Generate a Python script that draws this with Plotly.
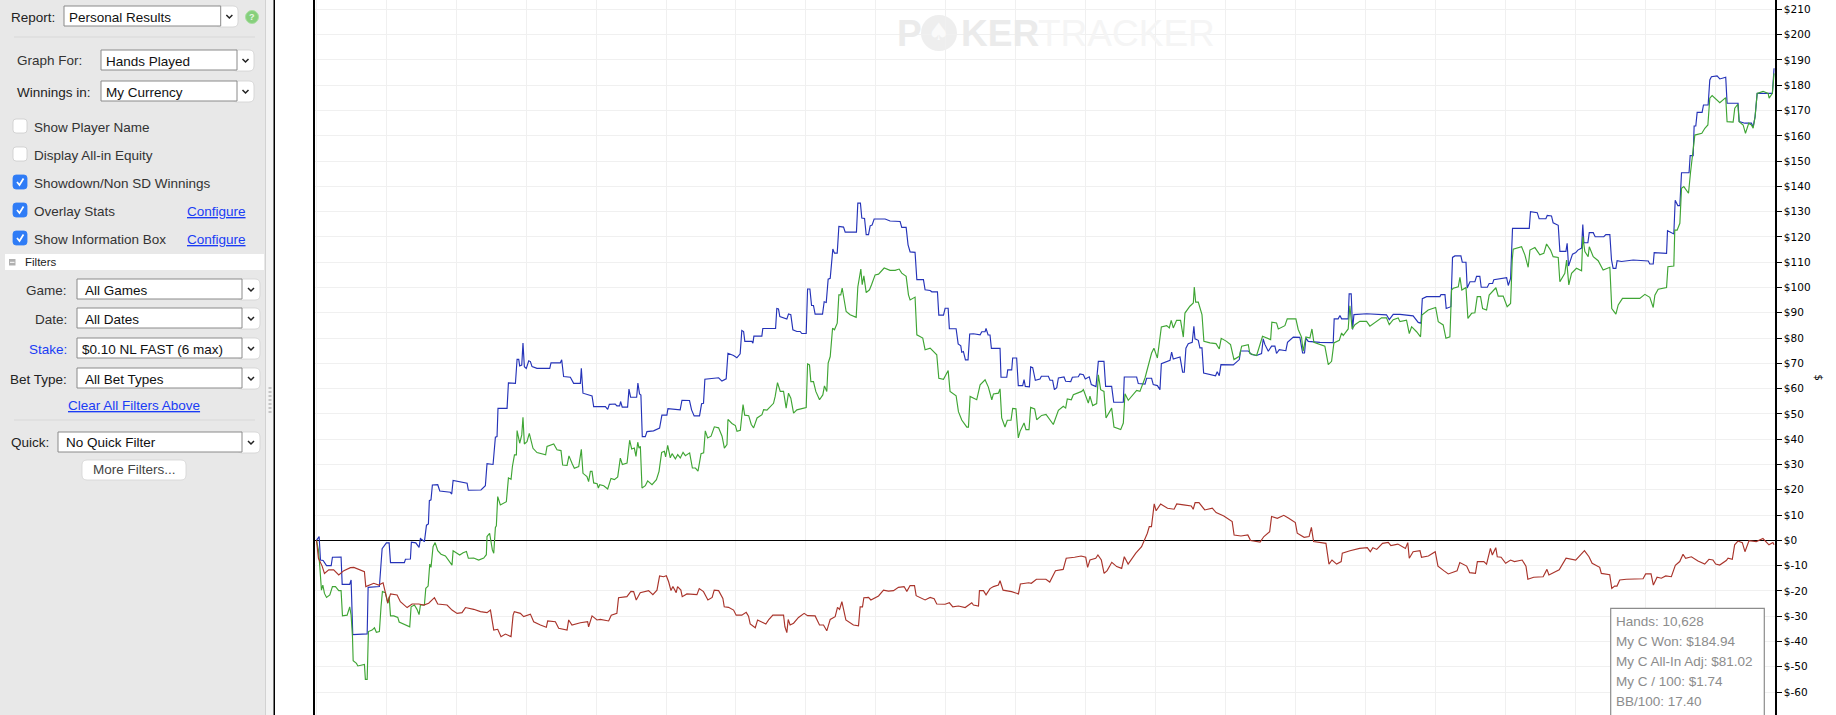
import plotly.graph_objects as go

blue_points = [(11,0),(30,1.5),(40,-7.8),(59,-8),(84,-10),(118,-10),(127,-6.7),(190,-6.6),(198,-17.4),(253,-17.4),(263,-15.7),(275,-37.3),(380,-37),(387,-18.6),(469,-18.3),(489,-3.3),(520,-1),(540,-1),(550,-8.8),(651,-8.8),(659,-7.5),(695,-7.4),(702,-0.7),(734,-1),(758,-2.8),(768,0.7),(797,-0.5),(812,6),(826,6.5),(833,15.7),(845,16),(855,21.9),(894,22),(909,19.5),(986,19),(996,18.3),(1006,23.7),(1108,22.6),(1117,19.8),(1209,19.9),(1241,21.6),(1253,30.3),(1297,30),(1314,40.8),(1326,41),(1333,52.2),(1399,52.2),(1409,62.3),(1460,62.1),(1472,71.6),(1484,71.6),(1491,69),(1506,69.3),(1515,78),(1525,68.7),(1539,68),(1557,71),(1569,70.7),(1581,68.7),(1617,68),(1710,68),(1719,70.2),(1787,70.2),(1797,71.4),(1811,64.8),(1860,64.5),(1884,62.1),(1933,62.1),(1940,68),(1952,58.2),(2018,57.1),(2030,52.9),(2115,52.9),(2132,51.8),(2144,53.8),
(2187,53.9),(2199,53.2),(2219,53.2),(2226,54.9),(2238,52.7),(2277,52.7),(2287,59.8),(2299,56.6),(2343,56.6),(2352,62.2),(2364,57.9),(2374,57.5),(2384,41),(2406,41),(2418,43),(2466,43.3),(2510,44.4),(2527,49.5),(2563,49.5),(2571,52.1),(2660,51.6),(2673,55.4),(2728,55.3),(2743,51.6),(2762,49.2),(2801,49.2),(2816,54),(2830,54.2),(2840,63.7),(2940,64.3),(2964,63),(2995,63.9),(3008,74),(3049,73.1),(3073,72.2),(3097,73.8),(3109,83),(3122,82.6),(3131,78.7),(3182,78.7),(3190,78),(3197,80.8),(3255,80.8),(3262,83.8),(3355,83.8),(3364,91.7),(3376,91.5),(3386,88.5),(3437,87.5),(3449,89.5),(3466,89.2),(3481,83.3),(3510,82.6),(3534,82.6),(3546,81.8),(3578,81.8),(3588,99.4),(3605,99.4),(3617,92.9),(3631,92.9),(3643,89.5),(3697,89.5),(3709,94.4),(3724,94.1),(3738,103.3),(3753,103.6),(3772,115.2),(3784,113.6),(3804,113.6),(3816,124.2),(3850,123.9),(3862,121.9),(3944,121.9),(3954,133.4),(3973,133.4),(3983,127.5),(4003,127.3),(4015,120.9),(4032,120.9),(4044,124.4),(4058,124.7),(4073,127.1),(4129,127.1),(4153,127.1),(4189,126.3),(4262,126.1),(4274,123.8),(4306,123.8),(4320,116.9),(4335,114.1),(4371,113.9),(4384,103.1),(4432,103.1),(4444,99.1),(4481,98.8),(4493,98.3),(4534,98.3),(4544,89.1),(4578,89.1),(4590,91.8),(4612,91.8),(4621,83.7),(4670,83.7),(4685,77.7),(4704,76.9),(4711,74.4),(4723,74.7),(4738,71.4),(4757,71.4),(4769,81.6),(4796,81.7),(4845,81.3),(4857,82.5),(4881,82.5),(4888,83.8),(4903,81.2),(4917,81.2),(4927,75.9),(4990,75.9),
(4997,64.5),(5039,64.5),(5046,67.4),(5075,67.4),(5082,72.1),(5111,72.1),(5123,61.2),(5155,61.2),(5165,63.6),(5174,60.9),(5204,60.7),(5213,68.6),(5228,68.3),(5247,63.3),(5281,63.8),(5291,64.9),(5342,64.9),(5354,63.3),(5373,63.3),(5386,59.6),(5403,60.4),(5415,64.2),(5456,64.6),(5468,62.9),(5505,62.8),(5517,64.5),(5560,64.7),(5572,65.8),(5597,65.5),(5611,63.8),(5640,64.7),(5655,61.6),(5689,60.8),(5706,70.8),(5747,70.8),(5759,60.9),(5803,60.9),(5818,54.6),(5888,54.6),(5895,64.6),(5985,64.6),(5997,62),(6046,61.8),(6058,64.1),(6094,64.1),(6106,61.6),(6136,61.2),(6155,59.6),(6165,69.9),(6228,71.2),(6240,74.4),(6252,71.7),(6301,72.5),(6320,66.5),(6332,66.5),(6344,76),(6361,77.8),(6390,78.3),(6402,84.7),(6410,79.7),(6434,79.1),(6446,76.1),(6461,76.1),(6473,66.2),(6519,65.7),(6560,65.1),(6572,66.7),(6587,65.1),(6599,69.5),(6689,69.4),(6733,71.5),(6742,74.9),(6798,74.9),(6822,73.5),(6859,73.1),(6895,73.9),(6907,79.7),(6919,77.5),(6944,74.8),(6968,76.8),(6992,76.8),(7004,73.9),(7024,75.4),(7072,75),(7084,78.3),(7126,80.4),(7174,80.3),(7194,74.1),(7208,74.1),(7218,80),(7235,78.7),(7320,78.3),(7417,78.2),(7424,87.6),(7453,87.6),(7466,88.9),(7478,87.6),(7526,87.6),(7533,97.5),(7548,97.5),(7558,83.4),(7568,89.3),(7660,89.6),(7805,89.2),(7825,87.3),(7854,89.4),(7903,89.4),
(7999,88.8),(8036,86.2),(8056,85.9),(8066,95.6),(8097,96.4),(8194,96.4),(8202,97.2),(8231,97.2),(8240,91.7),(8274,92.4),(8286,111.9),(8303,112.5),(8347,112.5),(8357,110),(8384,110),(8393,99.8),(8413,102.3),(8449,102.3),(8461,104.4),(8485,104.4),(8495,100.1),(8539,100.1),(8553,101.6),(8578,101.6),(8587,103.1),(8680,103.9),(8692,100.8),(8709,103.6),(8723,123.4),(8845,123.4),(8854,130),(8903,129.6),(8917,127.2),(8966,127.2),(8976,128.5),(9007,128.3),(9019,125.6),(9056,124.6),(9068,114.3),(9112,114.3),(9121,117.5),(9131,108.5),(9160,113.2),(9184,113.8),(9199,114.8),(9226,115.6),(9235,124.9),(9243,117.7),(9272,117.7),(9282,121.7),(9311,121.7),(9325,120.1),(9388,120.1),(9403,120.9),(9432,120.9),(9444,110.9),(9456,107.6),(9476,107.6),(9485,110.6),(9517,110.3),(9602,110.9),(9712,110.5),(9723,109.3),(9748,109.3),(9755,113.8),(9845,113.5),(9852,122.5),(9898,121.2),(9908,134.5),(9927,132.4),(9942,132.4),(9954,145.4),(10009,145.4),(10017,152.2),(10039,152.2),(10046,163.9),(10058,163.9),(10068,169.3),(10104,169.3),(10114,172.2),(10148,172.2),(10160,182.1),(10172,183.4),(10213,183.7),(10233,182.5),(10276,183.2),(10286,172.9),(10366,172.9),(10374,165.6),(10415,165),(10463,165),(10476,163.6),(10490,167.6),(10505,176.8),(10573,176.8),(10616,176.8),(10628,186.7)]

green_points = [(11,0),(25,-3.8),(35,-10.4),(47,-19.7),(57,-17.7),(69,-21),(84,-22.6),(108,-21.6),(127,-18.3),(149,-18.3),(173,-19.9),(190,-19.9),(200,-29.9),(234,-29.6),(253,-26.3),(263,-29.6),(273,-38),(278,-47.6),(302,-48.7),(312,-49.7),(360,-49.1),(367,-55),(380,-55),(389,-36.1),(416,-35.5),(433,-34.6),(447,-36.4),(469,-36.1),(481,-26.3),(491,-20.3),(513,-20.7),(530,-24.9),(540,-22.3),(550,-29.9),(574,-29.9),(603,-30.5),(613,-32.3),(659,-33.5),(690,-34.2),(700,-26.3),(724,-25.6),(743,-27.3),(758,-29.4),(768,-25.6),(797,-25.6),(807,-19),(824,-18.1),(836,-9.4),(845,-10.7),(860,-2.5),(875,-0.9),(894,-4.1),(918,-5.5),(950,-6.2),(974,-7.8),(998,-9.8),(1006,-4.1),(1035,-5.1),(1054,-5.8),(1079,-4.9),(1103,-4.4),(1117,-7.1),(1156,-7),(1192,-7.8),(1229,-7),(1248,-5.7),(1253,1.5),(1272,2.8),(1292,-3.8),(1302,-5.1),(1314,5.1),(1321,5.7),(1331,17.3),(1350,14),(1394,15.3),(1409,24.7),(1428,24.1),(1438,29.2),(1453,33.8),(1467,33.8),(1472,43.4),(1491,38.4),(1506,41.7),(1515,48.7),(1525,38.1),(1544,39),(1561,42.3),(1588,36.4),(1617,34.7),(1680,33.8),(1690,37.1),(1739,38.1),(1763,35.8),(1792,35.5),(1804,29.8),(1836,29.6),(1850,33.4),(1872,30.5),(1889,28.5),(1921,29.2),(1940,36),(1952,26.5),(1981,25.2),(1993,23.2),
(2006,27.3),(2018,27.3),(2030,22.7),(2055,22.4),(2064,20.7),(2074,22),(2103,21.6),(2132,20.3),(2156,24.5),(2181,24),(2205,25.1),(2224,32.5),(2239,30),(2273,30.6),(2292,39.6),(2307,36.1),(2326,36.5),(2338,33.2),(2351,38.8),(2360,36.5),(2370,37.2),(2382,20.7),(2406,21.6),(2423,23.5),(2455,22),(2487,24),(2506,27.3),(2525,34.8),(2545,35.2),(2554,33),(2569,37.6),(2588,32.6),(2601,34.3),(2625,32.2),(2642,33.9),(2661,32.6),(2681,34.8),(2698,33.5),(2729,34.6),(2749,28.6),(2771,28.6),(2790,27.4),(2812,34.3),(2831,34.6),(2843,43.3),(2860,40.5),(2885,41.2),(2909,44.9),(2940,44.5),(2965,41.2),(2982,36.5),(3001,37.9),(3008,47.8),(3037,46.2),(3062,45.4),(3074,43.1),(3098,43.5),(3118,53.7),(3130,49.5),(3159,49.3),(3178,45.8),(3195,44.5),(3220,48.4),(3256,49.7),(3268,51.7),(3292,51.5),(3329,53.7),
(3340,54.2),(3352,56.9),(3369,62.4),(3389,58.9),(3413,58.9),(3432,52.3),(3449,58.2),(3466,56.2),(3486,50.3),(3510,51.6),(3558,52.3),(3578,52.5),(3588,69.8),(3602,69.4),(3612,62.8),(3631,62.8),(3648,58.9),(3675,55.6),(3699,57.5),(3711,61.1),(3728,58.9),(3738,70.1),(3753,72.7),(3770,83.9),(3784,83.3),(3804,85.9),(3816,97.1),(3830,97.1),(3840,99.8),(3869,90.5),(3898,89.2),(3942,88.2),(3954,100.2),(3976,107.3),(3986,101.1),(3998,104.6),(4015,98),(4039,99.1),(4054,101.1),(4080,105),(4105,105.3),(4146,107.7),(4189,106.8),(4226,106.8),(4255,107.3),(4274,105.7),(4306,104.4),(4323,97.1),(4335,95.1),(4371,96.2),(4384,81.3),(4427,80),(4444,75.4),(4481,76),(4529,73.4),(4544,64.1),(4578,63.7),(4612,67.2),(4626,58.9),(4670,57.2),(4687,50.9),(4711,47.6),(4748,44.8),(4760,44.8),(4772,56.9),(4820,55.6),(4845,61.5),(4881,63.5),(4905,60.6),(4930,55.6),(4942,57.9),(4978,58.2),
(4990,59.9),(5002,48.4),(5026,44.8),(5043,47.5),(5070,47.5),(5082,52.2),(5106,52),(5123,40.5),(5136,43.1),(5165,46.4),(5179,43.8),(5201,43.8),(5213,52.6),(5242,52),(5257,47.7),(5293,49.4),(5325,49.8),(5354,47.5),(5378,45.8),(5415,51.4),(5451,53),(5468,52.3),(5480,55.9),(5509,55.6),(5524,57.6),(5585,58.9),(5597,59.6),(5633,54.3),(5645,57),(5665,53.3),(5694,54.1),(5706,65.5),(5723,59.6),(5747,58.9),(5762,48.4),(5803,52.3),(5820,44.8),(5869,43.8),(5888,46.4),(5900,58),(5924,55.4),(5985,59.3),(6009,58.9),(6046,64.2),(6070,69.5),(6094,74.1),(6111,76),(6136,72.1),(6165,84.4),(6204,84.9),(6223,84),(6237,87),(6252,84),(6276,87),(6305,87),(6325,80.4),(6337,89.9),(6373,92.6),(6398,93.9),(6405,100.2),(6415,94.2),(6434,94.2),(6461,89.3),(6475,78.7),(6519,78.1),(6563,77.8),(6587,75.7),(6601,79.9),(6640,78.7),(6669,77.4),(6694,71.5),(6733,72.8),(6750,76.8),(6798,77.4),(6810,73.9),(6859,73.1),(6902,80.7),(6932,80),(6961,79.4),(6970,86.3),(7004,86),(7017,83.6),(7065,84.9),(7082,87.6),(7145,87.6),(7162,83.4),(7186,80.4),(7198,74.8),(7218,80.4),(7247,80),(7262,83.6),(7276,78.3),(7356,76.8),(7381,69.5),(7405,70.8),(7422,78.1),(7461,79.1),(7478,82),(7490,81),(7526,83.6),(7538,92.8),(7555,83.6),(7575,85.3),(7611,86.6),(7660,86.6),(7684,84.7),(7732,86.6),(7769,88),(7805,88),(7825,85.3),(7854,87.3),(7890,88),
(7903,86.5),(7951,87.1),(7971,81.8),(7988,84.5),(8024,82.5),(8053,80.5),(8063,89.1),(8109,91.1),(8163,92.1),(8182,86.5),(8218,85.2),(8238,79.9),(8267,80.5),(8279,99),(8291,99.7),(8328,100.3),(8340,104),(8354,99),(8384,100),(8398,87.8),(8425,89.8),(8449,90),(8466,96.4),(8490,96.4),(8505,91.7),(8534,91.1),(8553,97),(8578,98.3),(8602,99.9),(8619,96.6),(8655,96.6),(8684,92.4),(8709,93.7),(8721,110.9),(8728,115.2),(8789,116.1),(8813,112.9),(8837,108),(8850,114.8),(8886,115.8),(8922,112.9),(8951,113.5),(8971,117.2),(9000,114.8),(9019,112.2),(9056,111.9),(9068,102.3),(9104,105.6),(9117,110.9),(9133,101),(9153,105.6),(9189,107.6),(9226,106.6),(9235,120.1),(9250,114.2),(9274,112.2),(9282,116.1),(9311,112.2),(9347,110.6),(9383,106.9),(9432,108),(9446,91.7),(9476,89.5),(9493,93.1),(9524,95.7),(9578,95.7),(9650,95.7),(9687,97.3),(9723,96.1),(9748,92.1),(9760,97),(9784,99.3),(9845,100),(9855,108.2),(9898,108.5),(9905,122.7),(9922,122.7),(9942,125.4),(9954,139.2),(9971,139.9),(10005,137.3),(10019,145.2),(10039,154.4),(10051,160.3),(10102,161),(10124,163),(10146,164.3),(10160,174.9),(10177,175.9),(10233,173.1),(10276,175.1),(10286,165.6),(10330,165.4),(10342,170.9),(10364,172.5),(10374,165.6),(10403,164.3),(10420,161),(10444,165),(10463,164.3),(10476,163),(10490,167.6),(10505,176.8),(10548,177.6),(10585,176.8),(10592,174.9),(10616,176.8),(10628,184.7)]

red_points = [(11,0),(25,-7.1),(52,-10.2),(69,-13.1),(100,-11.7),(136,-11.7),(173,-13.7),(210,-12),(258,-10.8),(283,-10.7),(360,-12.4),(370,-18.3),(428,-17),(464,-17.7),(496,-16.8),(513,-21),(530,-24.7),(550,-21.2),(598,-21.6),(622,-24.3),(671,-26.6),(707,-25.2),(756,-25.2),(792,-25.6),(828,-24.9),(870,-22.7),(894,-25.2),(962,-25.6),(998,-27.6),(1035,-28.9),(1071,-28.6),(1096,-26.6),(1156,-27.3),(1205,-28.2),(1253,-28.6),(1278,-27.6),(1302,-35.5),(1331,-35.2),(1355,-38.1),(1387,-37.1),(1428,-38.1),(1443,-29.6),(1452,-28.2),(1496,-28.9),(1520,-30.2),(1569,-29.2),(1593,-32.2),(1642,-33.5),(1685,-34.4),(1695,-31.9),(1751,-32.2),(1775,-34.8),(1836,-35.5),(1848,-31.5),(1872,-33.5),(1933,-32.6),(1986,-32.2),(1993,-34.2),(2018,-29.9),(2054,-31.5),
(2078,-31.3),(2139,-31.9),(2158,-29.6),(2199,-28.9),(2211,-22.7),(2272,-22.3),(2301,-20.2),(2321,-20.3),(2340,-23.6),(2369,-20.7),(2430,-19.9),(2461,-21.5),(2491,-19.7),(2510,-14.1),(2539,-14.4),(2559,-14),(2576,-16.4),(2593,-19.9),(2607,-18.3),(2631,-20.7),(2641,-18.3),(2665,-19.7),(2675,-22.3),(2709,-21.2),(2782,-21.5),(2799,-19.1),(2830,-20.3),(2862,-23.6),(2893,-22.6),(2908,-19.7),(2940,-19.9),(2971,-23),(2981,-26.3),(3012,-26.5),(3049,-27.6),(3068,-29.6),(3109,-29.6),(3141,-28.5),(3158,-30),(3170,-33.1),(3207,-34.6),(3224,-31.5),(3255,-32.2),(3284,-33.1),(3304,-31.5),(3335,-29.6),(3364,-29.6),(3413,-29.6),(3423,-34.2),(3437,-36.5),(3447,-31.3),(3461,-33.5),(3486,-32.8),(3522,-30.5),(3563,-28.9),(3588,-29.8),(3643,-29.9),(3675,-33.5),(3704,-33.5),(3728,-35.8),(3753,-31.3),(3789,-30.2),(3806,-26.5),(3821,-27.3),(3838,-24.3),(3867,-31.5),(3922,-33.5),(3959,-33.8),(3971,-26.3),(3988,-26.3),(3998,-22.7),(4032,-22.6),(4049,-23.6),(4105,-22),(4141,-19.7),(4177,-20.1),(4214,-19.9),(4250,-18.6),(4291,-18.3),(4311,-20.2),(4335,-17.9),(4367,-17.9),(4379,-21.9),(4444,-23.6),(4481,-22.6),(4510,-23.1),(4529,-25.2),(4590,-25.3),(4621,-24.7),(4646,-26.3),(4687,-26),(4736,-26.6),(4784,-24.7),(4796,-25.6),(4833,-26),(4840,-19.9),(4869,-19.9),(4888,-21.6),(4917,-19.1),(4942,-18.3),(4978,-17.7),
(4990,-16),(5012,-19.7),(5074,-20.3),(5124,-21.2),(5138,-17.3),(5199,-16.8),(5218,-17),(5255,-15.4),(5324,-15.4),(5352,-16.5),(5394,-12),(5450,-11.5),(5472,-7.1),(5533,-6.7),(5581,-6.2),(5614,-6.7),(5628,-10.7),(5645,-7.8),(5687,-7.1),(5703,-5.8),(5728,-7.8),(5748,-13.1),(5770,-12),(5804,-8.7),(5840,-10.4),(5876,-11.1),(5895,-6.5),(5923,-9.4),(5979,-5.1),(6021,-2.5),(6043,0.1),(6063,2.8),(6077,5.4),(6093,5.4),(6113,14.4),(6127,11.7),(6160,14.4),(6210,12.7),(6258,12.3),(6277,14.4),(6327,14),(6383,13.6),(6397,12.3),(6411,14.9),(6439,14.9),(6481,12),(6536,12.7),(6564,11),(6620,9.6),(6662,8),(6681,7.4),(6695,2.1),(6745,1.7),(6795,2.1),(6815,-0.1),(6884,-0.7),(6912,1.5),(6954,3.4),(6968,9.4),(7010,8.7),(7057,9.9),(7093,8.7),(7141,7),(7155,2.8),(7205,1.2),(7241,1.5),(7258,5.1),(7274,-0.5),(7364,-1.2),(7386,-9.4),(7408,-7.8),(7442,-9.4),(7475,-8.4),(7483,-5.1),(7539,-4.1),(7609,-3.2),(7665,-2.9),(7687,-4.5),(7706,-2.9),(7734,-3.6),(7776,-1.2),(7818,-0.8),(7837,-2.1),(7888,-1.5),(7943,-3.2),(7960,-0.9),(7971,-7.1),(7999,-4.5),(8049,-4.1),(8060,-6.7),(8110,-6.2),(8160,-4.5),(8180,-10.2),(8222,-12),(8255,-13.3),(8319,-12.1),(8339,-8.8),(8389,-10.2),(8411,-12.8),(8453,-13.1),(8467,-8.4),(8514,-8.4),(8534,-9.4),(8562,-3.2),(8576,-5.8),(8601,-2.9),(8612,-6.5),(8640,-6.7),(8673,-9.1),(8709,-7.8),(8737,-8.4),(8793,-7.8),(8821,-10.2),(8835,-15.4),(8877,-14.6),(8946,-14.4),(8974,-11.5),(8988,-13.7),(9063,-11.7),(9113,-7.1),(9183,-7.8),(9247,-4.1),(9280,-6.5),(9303,-9.1),(9358,-10.7),
(9370,-13.1),(9431,-13.6),(9446,-19),(9467,-18.1),(9484,-18.1),(9504,-15.7),(9552,-15.4),(9613,-15.4),(9674,-15.2),(9693,-13.3),(9732,-13.3),(9749,-17.7),(9776,-14.6),(9807,-15),(9839,-14.1),(9880,-14.4),(9909,-9.9),(9941,-8.4),(9965,-5.5),(9984,-7.1),(10026,-6.5),(10074,-8.2),(10123,-9.4),(10154,-7.5),(10183,-7.8),(10203,-9.4),(10232,-9.8),(10280,-8),(10293,-7.1),(10324,-7.5),(10341,-1.8),(10365,-0.3),(10397,-0.9),(10416,-4.5),(10446,-0.1),(10499,-0.5),(10547,0.7),(10591,-1.8),(10620,-0.9),(10628,-1.8)]

tick_values = list(range(-60, 211, 10))
tick_labels = ["$" + str(v) for v in tick_values]
info_lines = ["Hands: 10,628", "My C Won: $184.94", "My C All-In Adj: $81.02", "My C / 100: $1.74", "BB/100: 17.40"]

W, H = 1836, 715
FONT = "Liberation Sans"
fx = lambda p: p / W
fy = lambda p: 1 - p / H

shapes, notes = [], []

def rect(x0, y0, x1, y1, fill, line=None, lw=1, layer="above"):
    shapes.append(dict(type="rect", xref="paper", yref="paper", x0=fx(x0), x1=fx(x1), y0=fy(y0), y1=fy(y1),
                       fillcolor=fill, line=dict(color=line or fill, width=lw if line else 0), layer=layer))

def path(points, fill=None, line="#333", lw=1.4, close=False, layer="above"):
    d = "M" + " L".join(f"{fx(a):.6f},{fy(b):.6f}" for a, b in points) + (" Z" if close else "")
    shapes.append(dict(type="path", xref="paper", yref="paper", path=d, fillcolor=fill or "rgba(0,0,0,0)",
                       line=dict(color=line, width=lw), layer=layer))

def rrect(x0, y0, x1, y1, r, fill, line="#c9c9c9", lw=0.8):
    def P(a, b):
        return f"{fx(a):.6f},{fy(b):.6f}"
    d = (f"M{P(x0+r,y0)} L{P(x1-r,y0)} Q{P(x1,y0)} {P(x1,y0+r)} L{P(x1,y1-r)} Q{P(x1,y1)} {P(x1-r,y1)} "
         f"L{P(x0+r,y1)} Q{P(x0,y1)} {P(x0,y1-r)} L{P(x0,y0+r)} Q{P(x0,y0)} {P(x0+r,y0)} Z")
    shapes.append(dict(type="path", xref="paper", yref="paper", path=d, fillcolor=fill,
                       line=dict(color=line, width=lw), layer="above"))

def text(x, y, s, size=13.5, color="#222222", anchor="left", font=FONT):
    if x < 300:
        y += 1
    if anchor == "left":
        x -= 1.5
    elif anchor == "right":
        x += 2
    notes.append(dict(xref="paper", yref="paper", x=fx(x), y=fy(y), text=s, showarrow=False, xanchor=anchor,
                      yanchor="middle", font=dict(family=font, size=size, color=color), align=anchor))

def combo(x0, y0, x1, x2, s, tx=None):
    rrect(x1 - 5, y0, x2, y0 + 21, 5, "#ffffff", "#d0d0d0")
    rect(x0, y0, x1, y0 + 20, "#ffffff", "#8a8a8a", 1)
    cx, cy = (x1 + x2) / 2, y0 + 10.5
    path([(cx - 3, cy - 1.5), (cx, cy + 1.5), (cx + 3, cy - 1.5)], line="#222222", lw=1.5)
    text(tx if tx else x0 + 4, y0 + 10, s, color="#111111")

def check(y, s, on):
    if on:
        rrect(13, y - 7, 27, y + 7, 3, "#2f7cf6", "#2f7cf6")
        path([(17, y), (19.5, y + 3), (23.5, y - 3.5)], line="#ffffff", lw=1.7)
    else:
        rrect(13, y - 7, 27, y + 7, 3, "#ffffff", "#cccccc")
    text(33, y, s, color="#333333")

def link(x, y, s, anchor="left"):
    text(x, y, f"<u>{s}</u>", color="#1a3cf5", anchor=anchor)

# left panel
rect(0, 0, 265, H, "#e8e8e8")
rect(265, 0, 266, H, "#d2d2d2", layer="above")
rect(266, 0, 274, H, "#f3f3f3")
rect(273.5, 0, 275, H, "#000000")
for row in range(7):
    rect(268.5, 387 + row * 4, 271.5, 389 + row * 4, "#c4c4c4")

text(10, 17, "Report:")
combo(64, 6, 220.7, 238, "Personal Results")
shapes.append(dict(type="circle", xref="paper", yref="paper", x0=fx(245.5), x1=fx(258.5), y0=fy(23.5), y1=fy(10.5),
                   fillcolor="#86cf7c", line=dict(color="#a9dfa2", width=1), layer="above"))
text(252, 16, "<b>?</b>", size=9, color="#e9f7e6", anchor="center")
rect(14, 36.5, 255, 37.5, "#d8d8d8")
text(16, 59.5, "Graph For:", color="#333333")
combo(101, 50, 237, 254, "Hands Played")
text(16, 91.5, "Winnings in:")
combo(101, 81, 237, 254, "My Currency")
check(126, "Show Player Name", False)
check(154, "Display All-in Equity", False)
check(182, "Showdown/Non SD Winnings", True)
check(210, "Overlay Stats", True)
check(238, "Show Information Box", True)
link(186, 210, "Configure")
link(186, 238, "Configure")
rect(5, 254, 264, 270, "#ffffff")
rect(9, 259, 15.5, 265.5, "#b0b0b0")
rect(10, 261.8, 14.5, 262.8, "#ffffff")
text(24, 261, "Filters", size=11.5)
text(67, 289, "Game:", anchor="right", color="#333333")
combo(77, 279, 242, 260, "All Games", tx=84.5)
text(67, 318.5, "Date:", anchor="right", color="#333333")
combo(77, 308, 242, 260, "All Dates", tx=84.5)
text(67, 348.5, "Stake:", anchor="right", color="#1a3cf5")
combo(77, 338, 242, 260, "$0.10 NL FAST (6 max)", tx=81)
text(67, 378.5, "Bet Type:", anchor="right")
combo(77, 368, 242, 260, "All Bet Types", tx=84.5)
link(134, 404.5, "Clear All Filters Above", anchor="center")
rect(14, 419.5, 255, 420.5, "#d8d8d8")
text(10, 441.5, "Quick:")
combo(58, 432, 242, 260, "No Quick Filter", tx=65.5)
rrect(82, 460, 186, 480, 5, "#ffffff", "#d4d4d4")
text(134, 469, "More Filters...", anchor="center", color="#444444")

# watermark
text(896, 33, "<b>P</b>", size=37, color="#ebebeb")
shapes.append(dict(type="circle", xref="paper", yref="paper", x0=fx(921), x1=fx(957), y0=fy(51), y1=fy(15),
                   fillcolor="#eeeeee", line=dict(width=0), layer="below"))
text(939, 32, "♠", size=24, color="#fafafa", anchor="center", font="DejaVu Sans")
text(960, 33, "<b>KER</b>", size=37, color="#ebebeb")
text(1037, 33, "TRACKER", size=37, color="#f5f5f5")

# info box
rect(1610.7, 608.3, 1764.3, H + 6, "#ffffff", "#8c8c8c", 1.2)
for i, line in enumerate(info_lines):
    text(1615.7, 621.7 + 20 * i, line, size=13.5, color="#8c8c8c")

# y-axis extras
notes.append(dict(xref="paper", yref="y", x=fx(1781), y=-70, text="$-70", showarrow=False, xanchor="left",
                  yanchor="middle", font=dict(family="DejaVu Sans", size=10.5, color="#000000")))
notes.append(dict(xref="paper", yref="paper", x=fx(1825), y=fy(377), text="$", showarrow=False, textangle=90,
                  font=dict(family="DejaVu Sans", size=10, color="#000000")))

fig = go.Figure()
for pts, color in ((blue_points, "#2533b8"), (green_points, "#3fa534"), (red_points, "#a9342b")):
    fig.add_trace(go.Scatter(x=[p[0] for p in pts], y=[p[1] for p in pts], mode="lines",
                             line=dict(color=color, width=1.15), hoverinfo="skip", showlegend=False))

fig.update_layout(
    width=W, height=H, autosize=False, margin=dict(l=0, r=0, t=0, b=0, pad=0),
    paper_bgcolor="#ffffff", plot_bgcolor="#ffffff", showlegend=False,
    shapes=shapes, annotations=notes,
    xaxis=dict(domain=[315 / W, 1775 / W], range=[0, 10635], tick0=518, dtick=509.7, showticklabels=False,
               ticks="", showgrid=True, gridcolor="#f0f0f0", gridwidth=1.2, zeroline=False, showline=False),
    yaxis=dict(domain=[0, 1], range=[-69.1, 213.73], side="right", tickmode="array", tickvals=tick_values,
               ticktext=tick_labels, ticks="outside", ticklen=5, tickcolor="#000000", tickwidth=1,
               tickfont=dict(family="DejaVu Sans", size=10.5, color="#000000"),
               showgrid=True, gridcolor="#f0f0f0", gridwidth=1.2, zeroline=True, zerolinecolor="#000000",
               zerolinewidth=1.4, showline=True, linecolor="#000000", linewidth=1.5, mirror=True),
)

fig.write_html("out.html", config=dict(displayModeBar=False),
               post_script="document.body.style.margin='0';document.body.style.overflow='hidden';")
